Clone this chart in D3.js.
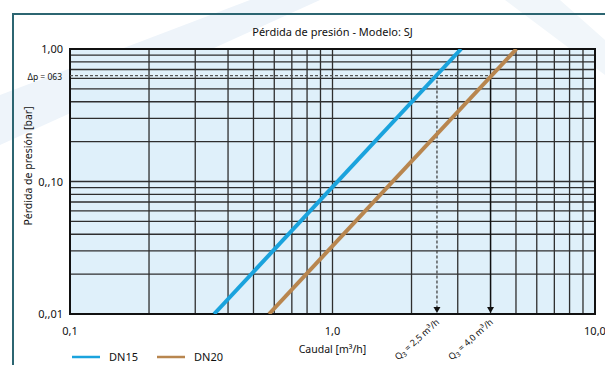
<!DOCTYPE html>
<html>
<head>
<script src="https://d3js.org/d3.v7.min.js"></script>
<style>
  body { margin: 0; background: #fff; }
  svg { display: block; font-family: "Noto Sans", "Open Sans", sans-serif; }
</style>
</head>
<body>
<div id="chart"></div>
<script>
// data
const title = "Pérdida de presión - Modelo: SJ";
const xTickValues = [0.1, 1, 10];
const xTickLabels = ["0,1", "1,0", "10,0"];
const yTickValues = [1, 0.1, 0.01];
const yTickLabels = ["1,00", "0,,10", "0,,01"];
const seriesNames = ["DN15", "DN20"];
const dn15 = [[0.354, 0.01], [3.09, 1.0]];
const dn20 = [[0.573, 0.01], [5.02, 1.0]];
const dpValue = 0.63;
const dpLabel = "Δp = 063";
const qValues = [2.5, 4.0];
const qLabels = ["2,5", "4,0"];

const width = 605, height = 365;
const margin = { top: 49, right: 10, bottom: 51, left: 70 };
const colors = ["#1aa3dd", "#b8864f"];

const svg = d3.select("#chart").append("svg")
  .attr("width", width).attr("height", height);

// faint decorative bands in the background
svg.append("path")
  .attr("d", "M0,95 L250,0 L320,0 L0,145 Z")
  .attr("fill", "#eef4fa");
svg.append("path")
  .attr("d", "M505,0 L560,0 L605,40 L605,75 Z")
  .attr("fill", "#f1f6fa");

// frame
svg.append("path")
  .attr("d", "M13,365 L13,14 L605,14")
  .attr("fill", "none")
  .attr("stroke", "#2c6571")
  .attr("stroke-width", 2);

const x = d3.scaleLog().domain([0.1, 10]).range([margin.left, width - margin.right]);
const y = d3.scaleLog().domain([0.01, 1]).range([height - margin.bottom, margin.top]);

const pw = x.range()[1] - x.range()[0];
const ph = y.range()[0] - y.range()[1];

svg.append("rect")
  .attr("x", margin.left).attr("y", margin.top)
  .attr("width", pw).attr("height", ph)
  .attr("fill", "#dff0fa");

// grid
const grid = svg.append("g").attr("stroke", "#2e2e2e").attr("stroke-width", 1.3);
grid.selectAll(".gx").data(x.ticks()).join("line")
  .attr("x1", d => x(d)).attr("x2", d => x(d))
  .attr("y1", y.range()[1]).attr("y2", y.range()[0]);
grid.selectAll(".gy").data(y.ticks()).join("line")
  .attr("x1", x.range()[0]).attr("x2", x.range()[1])
  .attr("y1", d => y(d)).attr("y2", d => y(d));

// border
svg.append("rect")
  .attr("x", margin.left).attr("y", margin.top)
  .attr("width", pw).attr("height", ph)
  .attr("fill", "none").attr("stroke", "#111").attr("stroke-width", 2);

// annotation: dashed dp line and Q markers
svg.append("line")
  .attr("x1", x.range()[0]).attr("x2", x(qValues[1]))
  .attr("y1", y(dpValue)).attr("y2", y(dpValue))
  .attr("stroke", "#555").attr("stroke-width", 1.3)
  .attr("stroke-dasharray", "3,2");
svg.append("line")
  .attr("x1", x(qValues[0])).attr("x2", x(qValues[0]))
  .attr("y1", y(dpValue)).attr("y2", y.range()[0] - 5)
  .attr("stroke", "#444").attr("stroke-width", 1.3)
  .attr("stroke-dasharray", "3,2");
svg.append("line")
  .attr("x1", x(qValues[1])).attr("x2", x(qValues[1]))
  .attr("y1", y(dpValue)).attr("y2", y.range()[0] - 5)
  .attr("stroke", "#111").attr("stroke-width", 1.3);
svg.selectAll(".arrow").data(qValues).join("path")
  .attr("d", d => {
    const cx = x(d), by = y.range()[0] - 1;
    return `M${cx - 3.5},${by - 6} L${cx + 3.5},${by - 6} L${cx},${by} Z`;
  })
  .attr("fill", "#111");

// series
svg.append("clipPath").attr("id", "clip").append("rect")
  .attr("x", margin.left).attr("y", margin.top)
  .attr("width", pw).attr("height", ph);
const line = d3.line().x(d => x(d[0])).y(d => y(d[1]));
[dn15, dn20].forEach((s, i) => {
  svg.append("path")
    .datum(s)
    .attr("clip-path", "url(#clip)")
    .attr("fill", "none")
    .attr("stroke", colors[i])
    .attr("stroke-width", 4)
    .attr("d", line);
});

// axes labels
svg.selectAll(".ylab").data(yTickValues).join("text")
  .attr("x", margin.left - 7).attr("y", d => y(d) + 4)
  .attr("text-anchor", "end")
  .attr("font-size", 11).attr("fill", "#111")
  .text((d, i) => yTickLabels[i]);
svg.append("text")
  .attr("x", margin.left - 8).attr("y", y(dpValue) + 4)
  .attr("text-anchor", "end")
  .attr("font-size", 8.5).attr("fill", "#111")
  .text(dpLabel);
svg.selectAll(".xlab").data(xTickValues).join("text")
  .attr("x", d => x(d)).attr("y", height - 30)
  .attr("text-anchor", "middle")
  .attr("font-size", 11).attr("fill", "#111")
  .text((d, i) => xTickLabels[i]);

svg.append("text")
  .attr("x", x(1)).attr("y", 36)
  .attr("text-anchor", "middle")
  .attr("font-size", 11).attr("fill", "#111")
  .text(title);
svg.append("text")
  .attr("x", x(1)).attr("y", height - 12)
  .attr("text-anchor", "middle")
  .attr("font-size", 10.5).attr("fill", "#111")
  .text("Caudal [m³/h]");
svg.append("text")
  .attr("transform", `translate(32,${166}) rotate(-90)`)
  .attr("text-anchor", "middle")
  .attr("font-size", 10.5).attr("fill", "#111")
  .text("Pérdida de presión [bar]");

// rotated Q labels
qValues.forEach((q, i) => {
  const t = svg.append("text")
    .attr("transform", `translate(${x(q) + 3},${y.range()[0] + 9}) rotate(-42)`)
    .attr("text-anchor", "end")
    .attr("font-size", 9).attr("fill", "#111");
  t.append("tspan").text("Q");
  t.append("tspan").attr("font-size", 6.5).attr("dy", 2).text("3");
  t.append("tspan").attr("dy", -2).text(" = " + qLabels[i] + " m³/h");
});

// legend
const leg = svg.append("g");
seriesNames.forEach((n, i) => {
  const lx = 72 + i * 85;
  leg.append("line")
    .attr("x1", lx).attr("x2", lx + 28)
    .attr("y1", 357).attr("y2", 357)
    .attr("stroke", colors[i]).attr("stroke-width", 2.5);
  leg.append("text")
    .attr("x", lx + 37).attr("y", 361)
    .attr("font-size", 11).attr("fill", "#111")
    .text(n);
});
</script>
</body>
</html>
